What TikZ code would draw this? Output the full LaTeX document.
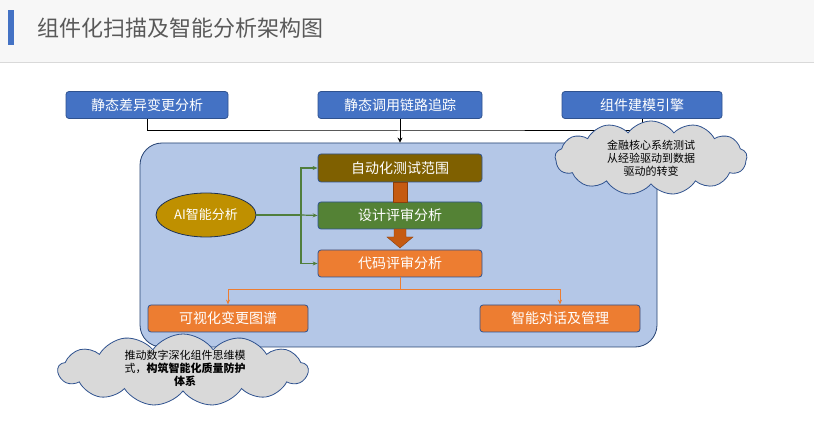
\documentclass[tikz,border=0pt]{standalone}
\usepackage{fontspec}
\setmainfont{Noto Sans CJK SC}
\usetikzlibrary{shapes.symbols,shapes.geometric,arrows.meta}
\definecolor{bblue}{HTML}{4472C4}
\definecolor{bord}{HTML}{2F528F}
\definecolor{cont}{HTML}{B4C7E7}
\definecolor{brown}{HTML}{7F6000}
\definecolor{gr}{HTML}{548235}
\definecolor{org}{HTML}{ED7D31}
\definecolor{gold}{HTML}{BF9000}
\definecolor{rust}{HTML}{C55A11}
\definecolor{grline}{HTML}{507E3C}
\begin{document}
\begin{tikzpicture}[x=1pt,y=-1pt,
  box/.style={draw=bord,line width=0.8pt,rounded corners=3pt,text=white,font=\fontsize{14}{16}\selectfont,minimum height=27pt,inner sep=0pt},
  cloudn/.style={cloud,cloud puffs=13,cloud puff arc=110,draw=bord,fill=black!15,line width=0.8pt},
  ctext/.style={align=center,font=\fontsize{11}{13}\selectfont,text=black}]
\useasboundingbox (0,0) rectangle (814,446);
\fill[white] (0,0) rectangle (814,446);
\fill[black!3] (0,0) rectangle (814,62);
\draw[black!15] (0,62) -- (814,62);
\fill[bblue] (8,10) rectangle (14,45);
\node[anchor=west,text=black!65,font=\fontsize{22}{24}\selectfont] (title) at (34,28) {组件化扫描及智能分析架构图};
% container
\node[draw=bord!80!black,line width=0.8pt,fill=cont,rounded corners=22pt,minimum width=517pt,minimum height=204pt] (c) at (398.5,245) {};
% top boxes
\node[box,fill=bblue,minimum width=162pt] (t1) at (147,105) {静态差异变更分析};
\node[box,fill=bblue,minimum width=164pt] (t2) at (400,105) {静态调用链路追踪};
\node[box,fill=bblue,minimum width=160pt] (t3) at (642,105) {组件建模引擎};
\coordinate (j) at (400,131);
\draw[black,line width=1pt] (t1.south) |- (j) -| (t3.south);
\draw[black,line width=1pt,-{Stealth[length=5pt,width=5pt]}] (t2.south) -- (c.north-|t2.south);
% inner
\node[box,fill=brown,minimum width=164pt,minimum height=28pt] (b1) at (400,168) {自动化测试范围};
\node[box,fill=gr,minimum width=164pt] (b2) at (400,215.5) {设计评审分析};
\node[box,fill=org,minimum width=164pt] (b3) at (400,263.5) {代码评审分析};
\fill[rust,draw=rust!70!black] (393,182) rectangle (407,202);
\fill[rust,draw=rust!70!black] (394,229) -- (406,229) -- (406,237) -- (413,237) -- (400,248) -- (387,237) -- (394,237) -- cycle;
\node[draw=bord!60!black,line width=0.8pt,fill=gold,ellipse,minimum width=100pt,minimum height=44pt,text=white,font=\fontsize{13}{15}\selectfont,inner sep=0pt] (ai) at (206,215) {AI智能分析};
\coordinate (g) at (301,215);
\draw[grline,line width=1.2pt] (ai.east) -- (g);
\draw[grline,line width=1.2pt,-{Stealth[length=5pt,width=4pt]}] (g) |- (b1.west);
\draw[grline,line width=1.2pt,-{Stealth[length=5pt,width=4pt]}] (g) -- (b2.west);
\draw[grline,line width=1.2pt,-{Stealth[length=5pt,width=4pt]}] (g) |- (b3.west);
% bottom
\node[box,fill=org,minimum width=160pt] (d1) at (228,318.5) {可视化变更图谱};
\node[box,fill=org,minimum width=160pt] (d2) at (560,318.5) {智能对话及管理};
\coordinate (o) at (400,290);
\draw[org,line width=1pt] (b3.south) -- (o);
\draw[org,line width=1pt,-{Stealth[length=5pt,width=4pt]}] (o) -| (d1.north);
\draw[org,line width=1pt,-{Stealth[length=5pt,width=4pt]}] (o) -| (d2.north);
% clouds
\node[cloudn,minimum width=192pt,minimum height=74pt] (cl1) at (651,158) {};
\node[ctext] (cl1t) at (651,158) {金融核心系统测试\\从经验驱动到数据\\驱动的转变};
\node[cloudn,minimum width=250pt,minimum height=72pt] (cl2) at (183,370) {};
\node[ctext] (cl2t) at (185,368) {推动数字深化组件思维模\\式，\textbf{构筑智能化质量防护}\\\textbf{体系}};
\end{tikzpicture}
\end{document}
